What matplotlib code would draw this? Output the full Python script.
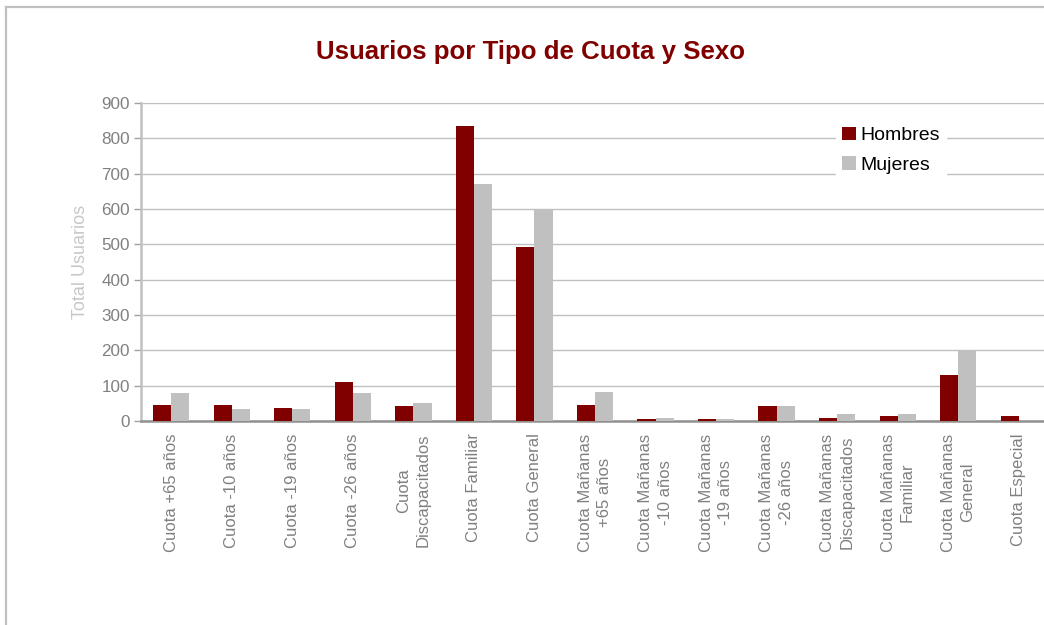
import numpy as np
import matplotlib
matplotlib.use('Agg')
import matplotlib.pyplot as plt
from matplotlib.lines import Line2D

plt.rcParams['font.family'] = ['Liberation Sans', 'DejaVu Sans']

# datos
categorias = ['Cuota +65 años', 'Cuota -10 años', 'Cuota -19 años', 'Cuota -26 años',
              'Cuota\nDiscapacitados', 'Cuota Familiar', 'Cuota General',
              'Cuota Mañanas\n+65 años', 'Cuota Mañanas\n-10 años', 'Cuota Mañanas\n-19 años',
              'Cuota Mañanas\n-26 años', 'Cuota Mañanas\nDiscapacitados',
              'Cuota Mañanas\nFamiliar', 'Cuota Mañanas\nGeneral', 'Cuota Especial']
hombres = [45, 45, 37, 110, 42, 835, 492, 45, 6, 5, 43, 9, 14, 130, 14]
mujeres = [79, 34, 34, 79, 51, 671, 597, 82, 8, 5, 43, 20, 19, 198, 0]

rojo = '#800000'
gris = '#c0c0c0'

W, H = 1044, 625
fig = plt.figure(figsize=(W / 100, H / 100), dpi=100)

# borde del grafico (solo izquierda y arriba visibles)
fig.lines.append(Line2D([6 / W, 6 / W], [0, 1 - 7 / H], transform=fig.transFigure,
                        color='#c0c0c0', linewidth=1.6))
fig.lines.append(Line2D([6 / W, 1], [1 - 7 / H, 1 - 7 / H], transform=fig.transFigure,
                        color='#c0c0c0', linewidth=1.6))

ax = fig.add_axes([141 / W, 1 - 421 / H, 908 / W, 318 / H])
x = np.arange(len(categorias))
ax.bar(x - 0.15, hombres, 0.3, color=rojo, label='Hombres', zorder=3)
ax.bar(x + 0.15, mujeres, 0.3, color=gris, label='Mujeres', zorder=3)

ax.set_xlim(-0.5, 14.5)
ax.set_ylim(0, 900)
ax.set_yticks(range(0, 901, 100))
ax.yaxis.grid(True, color='#c0c0c0', linewidth=1)
ax.set_axisbelow(True)

ax.set_xticks(x)
ax.set_xticklabels(categorias, rotation=90, fontsize=12, color='#808080',
                   ha='center', va='top', multialignment='center', linespacing=1.35)
ax.tick_params(axis='x', length=0, pad=9)
ax.tick_params(axis='y', colors='#808080', labelsize=12.3, length=5, width=1, pad=3)
ax.tick_params(axis='y', color='#a0a0a0')

for s in ['top', 'right']:
    ax.spines[s].set_visible(False)
ax.spines['left'].set_color('#c0c0c0')
ax.spines['left'].set_linewidth(1.8)
ax.spines['bottom'].set_color('#909090')
ax.spines['bottom'].set_linewidth(1.8)

ax.set_ylabel('Total Usuarios', color='#c8c8c8', fontsize=13, labelpad=9)

leg = ax.legend(loc='upper left', bbox_to_anchor=(826 / W, 1 - 111 / H),
                bbox_transform=fig.transFigure, frameon=True,
                fontsize=14, handlelength=0.72, handleheight=0.72, handletextpad=0.25,
                borderpad=0.3, labelspacing=0.6)
leg.get_frame().set_edgecolor('white')
leg.get_frame().set_facecolor('white')
leg.get_frame().set_alpha(1)
leg.get_frame().set_boxstyle('square', pad=0)

fig.text(531 / W, 1 - 52 / H, 'Usuarios por Tipo de Cuota y Sexo', ha='center',
         va='center', fontsize=18.6, fontweight='bold', color=rojo)

fig.savefig('out.png', dpi=100)
